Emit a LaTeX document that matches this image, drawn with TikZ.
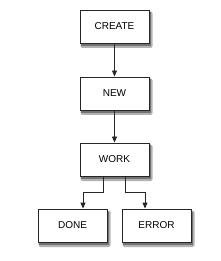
\documentclass[tikz,border=0pt]{standalone}
\usepackage{fontspec}
\setmainfont{Liberation Sans}
\usetikzlibrary{arrows.meta,calc}
\begin{document}
\begin{tikzpicture}[x=1pt,y=-1pt,
  statebox/.style={draw=black!85,line width=0.9pt,fill=white,minimum width=69pt,minimum height=33pt,inner sep=0pt,
    font=\fontsize{10}{12}\selectfont},
  shade1/.style={fill=black!30},
  shade2/.style={fill=black!55},
  conn/.style={draw=black!85,line width=0.9pt,-{Triangle[length=6pt,width=5pt]}}]
\useasboundingbox (0,0) rectangle (220,261);
\foreach \p in {{114.5,26.5},{114.5,93.5},{114.5,159.5},{72.5,225.5},{156.5,225.5}}{
  \fill[shade1,rounded corners=2pt] ($(\p)+(-34,-15)$) rectangle ($(\p)+(38,21.5)$);
  \fill[shade2] ($(\p)+(-33.5,-14)$) rectangle ($(\p)+(36.2,19.2)$);
}
\node[statebox] (create) at (114.5,26.5) {CREATE};
\node[statebox] (new) at (114.5,93.5) {NEW};
\node[statebox] (work) at (114.5,159.5) {WORK};
\node[statebox] (done) at (72.5,225.5) {DONE};
\node[statebox] (error) at (156.5,225.5) {ERROR};
\coordinate (wl) at ([xshift=-11.5pt]work.south);
\coordinate (wr) at ([xshift=11pt]work.south);
\coordinate (dl) at ([xshift=10.5pt]done.north);
\coordinate (er) at ([xshift=-11.5pt]error.north);
\draw[conn] (create) -- (new);
\draw[conn] (new) -- (work);
\draw[conn] (wl) -- ++(0,16) -| (dl);
\draw[conn] (wr) -- ++(0,16) -| (er);
\end{tikzpicture}
\end{document}
